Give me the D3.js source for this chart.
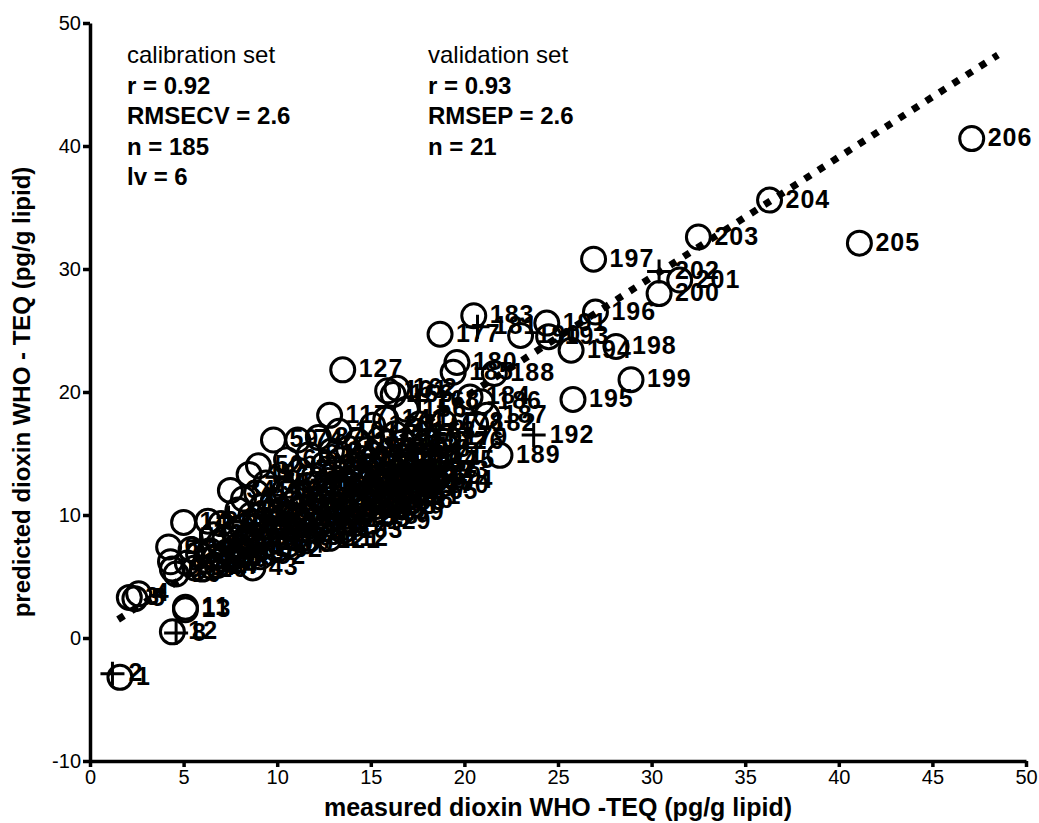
<!DOCTYPE html>
<html>
<head>
<meta charset="utf-8">
<script src="https://cdn.jsdelivr.net/npm/d3@7"></script>
<style>
body { margin: 0; background: #fff; }
svg { font-family: "Liberation Sans", Arial, sans-serif; }
.axis path, .axis line { stroke: #000; stroke-width: 3.5; }
.axis text { font-size: 20px; fill: #000; }
.lbl { font-size: 25px; font-weight: bold; letter-spacing: 1px; fill: #000; }
.stats { font-size: 24px; fill: #000; }
</style>
</head>
<body>
<script>
// measured / predicted dioxin, sample n = index + 1
var measured = [
  1.6, 1.2, 2.1, 2.6, 2.4, 4.2, 4.3, 4.6, 4.4, 4.6,
  5.1, 4.4, 5.1, 5.0, 5.2, 5.4, 5.6, 5.8, 5.9, 6.0,
  6.2, 6.3, 6.4, 6.5, 6.6, 6.7, 6.8, 6.9, 7.0, 7.1,
  7.2, 7.3, 7.4, 7.5, 7.6, 7.7, 7.8, 7.9, 8.0, 8.1,
  8.2, 8.3, 8.7, 8.4, 8.5, 8.6, 8.7, 8.8, 8.9, 9.0,
  9.0, 9.1, 9.2, 9.3, 9.4, 9.5, 9.6, 9.7, 9.8, 9.8,
  9.9, 10.0, 10.1, 10.2, 10.3, 10.4, 10.5, 10.5, 10.6, 10.7,
  10.8, 10.9, 11.0, 11.1, 11.1, 11.2, 11.3, 11.4, 11.5, 11.6,
  11.7, 11.8, 11.9, 12.0, 12.0, 12.1, 12.2, 12.3, 12.4, 12.5,
  12.5, 12.6, 12.7, 12.8, 12.9, 13.0, 13.0, 13.1, 13.2, 13.3,
  13.3, 13.4, 13.5, 13.5, 13.6, 13.7, 13.8, 13.8, 13.9, 14.0,
  14.0, 12.8, 14.1, 14.2, 14.3, 14.3, 12.8, 14.4, 14.5, 14.5,
  12.3, 14.6, 14.7, 14.8, 14.8, 14.9, 13.5, 15.0, 15.0, 15.1,
  15.2, 15.2, 15.3, 15.4, 15.4, 15.5, 15.6, 15.6, 15.7, 15.8,
  15.8, 15.9, 16.0, 16.0, 16.1, 16.2, 16.3, 16.3, 16.4, 16.5,
  16.6, 16.7, 15.8, 16.8, 16.9, 16.9, 17.0, 17.1, 17.2, 17.3,
  15.9, 16.4, 17.4, 17.5, 17.5, 16.2, 17.6, 17.6, 17.7, 18.1,
  17.8, 18.0, 18.1, 18.3, 18.4, 18.9, 18.7, 18.9, 19.1, 19.6,
  20.7, 20.6, 20.5, 20.3, 19.4, 20.9, 21.2, 21.6, 21.9, 23.0,
  24.4, 23.7, 24.5, 25.7, 25.8, 27.0, 26.9, 28.1, 28.9, 30.4,
  31.5, 30.4, 32.5, 36.3, 41.1, 47.1
];
var predicted = [
  -3.2, -2.9, 3.3, 3.6, 3.2, 7.4, 6.2, 0.4, 5.6, 5.2,
  2.5, 0.5, 2.3, 9.4, 6.1, 7.2, 5.7, 6.8, 7.9, 5.6,
  6.3, 9.5, 7.1, 5.8, 8.4, 6.6, 5.9, 7.7, 9.3, 6.4,
  8.0, 7.0, 9.8, 12.0, 6.5, 8.6, 7.4, 10.4, 6.9, 9.0,
  11.3, 7.8, 5.7, 8.3, 13.3, 10.0, 7.3, 9.4, 11.8, 14.0,
  8.1, 6.6, 10.7, 9.0, 12.6, 7.7, 10.2, 8.6, 16.1, 11.2,
  9.5, 7.2, 13.1, 10.4, 8.4, 12.0, 9.1, 14.5, 7.6, 10.9,
  12.7, 9.8, 8.2, 16.1, 11.5, 13.6, 9.2, 10.6, 7.9, 12.4,
  14.9, 9.9, 11.1, 8.6, 13.2, 10.3, 16.3, 12.0, 9.4, 14.1,
  11.0, 8.9, 12.8, 10.1, 15.2, 11.6, 9.7, 13.7, 12.3, 10.6,
  16.8, 14.5, 8.7, 11.9, 13.0, 10.2, 15.4, 12.5, 9.6, 14.0,
  11.2, 8.1, 13.4, 10.8, 16.0, 12.2, 18.1, 9.9, 14.6, 11.6,
  7.9, 13.0, 10.4, 15.3, 12.7, 11.0, 21.8, 13.8, 9.5, 17.3,
  12.1, 14.9, 10.7, 13.3, 11.6, 16.2, 12.6, 14.3, 10.2, 13.0,
  17.8, 11.9, 15.2, 12.8, 14.0, 11.2, 16.6, 13.5, 12.3, 14.8,
  11.5, 15.9, 11.0, 13.2, 14.1, 18.6, 12.1, 15.3, 13.6, 12.6,
  20.1, 20.3, 16.8, 14.4, 11.9, 19.8, 17.4, 19.3, 13.1, 12.4,
  14.8, 16.0, 13.6, 12.8, 14.4, 16.0, 24.7, 17.5, 16.3, 22.4,
  25.3, 17.4, 26.2, 19.6, 21.6, 19.2, 18.1, 21.5, 14.85, 24.6,
  25.6, 16.5, 24.5, 23.4, 19.4, 26.5, 30.8, 23.7, 21.0, 28.0,
  29.1, 29.8, 32.6, 35.6, 32.1, 40.6
];
// samples of the validation set (drawn as +)
var validation = [2, 8, 19, 33, 47, 58, 63, 71, 84, 96, 105, 121, 134, 142, 150, 158, 168, 173, 181, 192, 202];
var xTicks = [0, 5, 10, 15, 20, 25, 30, 35, 40, 45, 50];
var yTicks = [-10, 0, 10, 20, 30, 40, 50];
// dotted fit line, [measured, predicted] at both ends
var fitStart = [1.5, 1.5];
var fitEnd = [48.5, 47.4];
var calibText = ["calibration set", "r = 0.92", "RMSECV = 2.6", "n = 185", "lv = 6"];
var validText = ["validation set", "r = 0.93", "RMSEP = 2.6", "n = 21"];

var margin = {top: 23, right: 13, bottom: 62, left: 90},
    width = 1039 - margin.left - margin.right,
    height = 823 - margin.top - margin.bottom;

var x = d3.scaleLinear().domain([0, 50]).range([0, width]);
var y = d3.scaleLinear().domain([-10, 50]).range([height, 0]);

var svg = d3.select("body").append("svg")
    .attr("width", width + margin.left + margin.right)
    .attr("height", height + margin.top + margin.bottom)
  .append("g")
    .attr("transform", "translate(" + margin.left + "," + margin.top + ")");

var data = measured.map(function(d, i) {
  return {n: i + 1, m: d, p: predicted[i], val: validation.indexOf(i + 1) >= 0};
});

// axes
svg.append("g")
    .attr("class", "axis")
    .attr("transform", "translate(0," + height + ")")
    .call(d3.axisBottom(x).tickValues(xTicks).tickSize(6).tickSizeOuter(0).tickPadding(3)
      .tickFormat(function(d) { return String(d); }));

svg.append("g")
    .attr("class", "axis")
    .call(d3.axisLeft(y).tickValues(yTicks).tickSize(7).tickSizeOuter(0).tickPadding(2)
      .tickFormat(function(d) { return String(d); }));

// fit line
svg.append("line")
    .attr("x1", x(fitStart[0])).attr("y1", y(fitStart[1]))
    .attr("x2", x(fitEnd[0])).attr("y2", y(fitEnd[1]))
    .attr("stroke", "#000")
    .attr("stroke-width", 7)
    .attr("stroke-dasharray", "7,9");

var pt = svg.selectAll(".pt")
    .data(data)
    .enter().append("g")
    .attr("class", "pt")
    .attr("transform", function(d) { return "translate(" + x(d.m) + "," + y(d.p) + ")"; });

pt.filter(function(d) { return !d.val; }).append("circle")
    .attr("r", 12)
    .attr("fill", "none")
    .attr("stroke", "#000")
    .attr("stroke-width", 3);

pt.filter(function(d) { return d.val; }).append("path")
    .attr("d", "M-12,0H12M0,-12V12")
    .attr("stroke", "#000")
    .attr("stroke-width", 3);

pt.append("text")
    .attr("class", "lbl")
    .attr("x", 16)
    .attr("dy", "0.3em")
    .text(function(d) { return d.n; });

// statistics
svg.append("g").selectAll("text")
    .data(calibText)
    .enter().append("text")
    .attr("class", "stats")
    .attr("x", 37)
    .attr("y", function(d, i) { return 40 + i * 30.5; })
    .style("font-weight", function(d, i) { return i ? "bold" : "normal"; })
    .text(function(d) { return d; });

svg.append("g").selectAll("text")
    .data(validText)
    .enter().append("text")
    .attr("class", "stats")
    .attr("x", 338)
    .attr("y", function(d, i) { return 40 + i * 30.5; })
    .style("font-weight", function(d, i) { return i ? "bold" : "normal"; })
    .text(function(d) { return d; });

// axis titles
svg.append("text")
    .attr("x", width / 2)
    .attr("y", height + 55)
    .style("text-anchor", "middle")
    .style("font-size", "25px")
    .style("font-weight", "bold")
    .text("measured dioxin WHO -TEQ (pg/g lipid)");

svg.append("text")
    .attr("transform", "rotate(-90)")
    .attr("x", -height / 2)
    .attr("y", -60)
    .style("text-anchor", "middle")
    .style("font-size", "24px")
    .style("font-weight", "bold")
    .text("predicted dioxin WHO - TEQ (pg/g lipid)");
</script>
</body>
</html>
